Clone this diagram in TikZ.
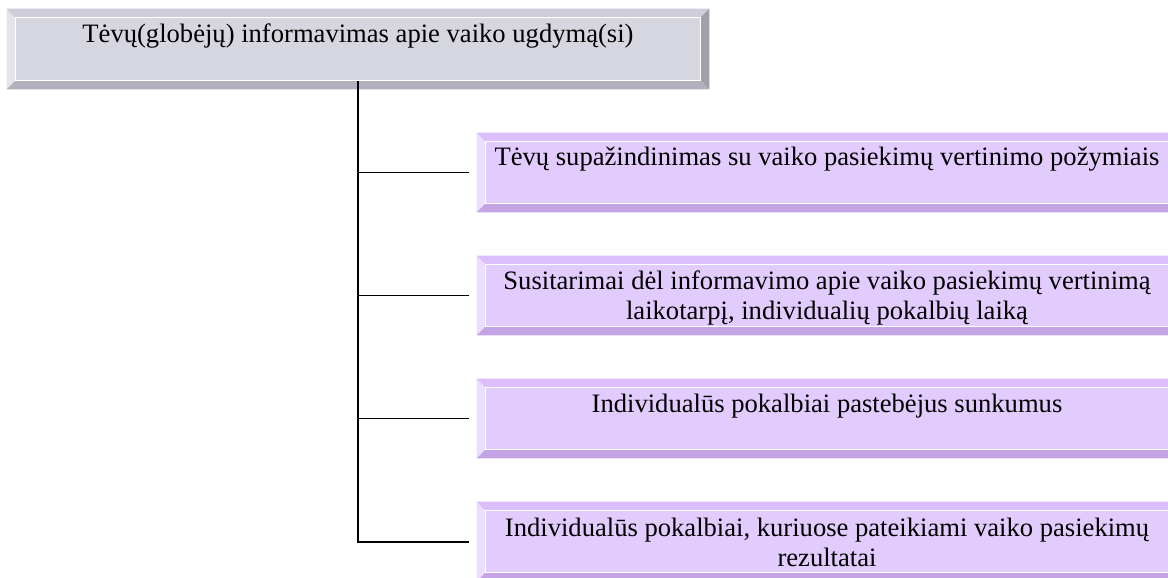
\documentclass[tikz,border=0pt]{standalone}
\usepackage{fontspec}
\setmainfont{Liberation Serif}
\usetikzlibrary{calc}

\definecolor{grayface}{RGB}{214,214,224}
\definecolor{graylight}{RGB}{228,228,236}
\definecolor{graytop}{RGB}{206,206,218}
\definecolor{grayright}{RGB}{160,160,172}
\definecolor{graybottom}{RGB}{176,176,190}
\definecolor{lilface}{RGB}{226,204,254}
\definecolor{lillight}{RGB}{236,222,255}
\definecolor{liltop}{RGB}{220,190,252}
\definecolor{lilright}{RGB}{176,140,214}
\definecolor{lilbottom}{RGB}{196,164,228}

% bevel frame round a box node: node, left, top, right, bottom
\newcommand\bevelframe[5]{%
  \fill[#2] (#1.north west) -- ([shift={(9,9)}]#1.north west) -- ([shift={(9,-9)}]#1.south west) -- (#1.south west) -- cycle;
  \fill[#3] (#1.north west) -- (#1.north east) -- ([shift={(-9,9)}]#1.north east) -- ([shift={(9,9)}]#1.north west) -- cycle;
  \fill[#4] (#1.north east) -- (#1.south east) -- ([shift={(-9,-9)}]#1.south east) -- ([shift={(-9,9)}]#1.north east) -- cycle;
  \fill[#5] (#1.south west) -- (#1.south east) -- ([shift={(-9,-9)}]#1.south east) -- ([shift={(9,-9)}]#1.south west) -- cycle;
  \draw[white, line width=0.6pt] ([shift={(9,9)}]#1.north west) rectangle ([shift={(-9,-9)}]#1.south east);
}

\begin{document}
\begin{tikzpicture}[x=0.5pt, y=-0.5pt,
  box/.style={rectangle, inner sep=0pt, minimum width=350pt, minimum height=39.5pt},
  headbox/.style={box, fill=grayface, minimum width=351pt, minimum height=40pt},
  itembox/.style={box, fill=lilface},
  txt/.style={anchor=base, align=center, inner sep=0pt, font=\fontsize{13.3}{15}\selectfont},
  conn/.style={line width=0.8pt}]
  \useasboundingbox (0,0) rectangle (1168,578);
  \clip (0,0) rectangle (1168,578);

  % boxes
  \node[headbox] (head) at (358,49) {};
  \bevelframe{head}{graylight}{graytop}{grayright}{graybottom}
  \foreach \i/\y in {1/172.5, 2/295.5, 3/418.5, 4/541.5} {
    \node[itembox] (b\i) at (827,\y) {};
    \bevelframe{b\i}{lillight}{liltop}{lilright}{lilbottom}
  }

  % connectors
  \coordinate (spine) at (358,541);
  \draw[conn, line width=1pt] ([yshift=4]head.south) -- (spine |- b4.west) -- ([xshift=-4]b4.west);
  \foreach \i in {1,2,3}
    \draw[conn] (spine |- b\i.west) -- ([xshift=-4]b\i.west);

  % texts (base = last line)
  \node[txt] (t0) at (358,42) {Tėvų(globėjų) informavimas apie vaiko ugdymą(si)};
  \node[txt] (t1) at (827,165) {Tėvų supažindinimas su vaiko pasiekimų vertinimo požymiais};
  \node[txt] (t2) at (827,319) {Susitarimai dėl informavimo apie vaiko pasiekimų vertinimą\\laikotarpį, individualių pokalbių laiką};
  \node[txt] (t3) at (827,412) {Individualūs pokalbiai pastebėjus sunkumus};
  \node[txt] (t4) at (827,566) {Individualūs pokalbiai, kuriuose pateikiami vaiko pasiekimų\\rezultatai};
\end{tikzpicture}
\end{document}
